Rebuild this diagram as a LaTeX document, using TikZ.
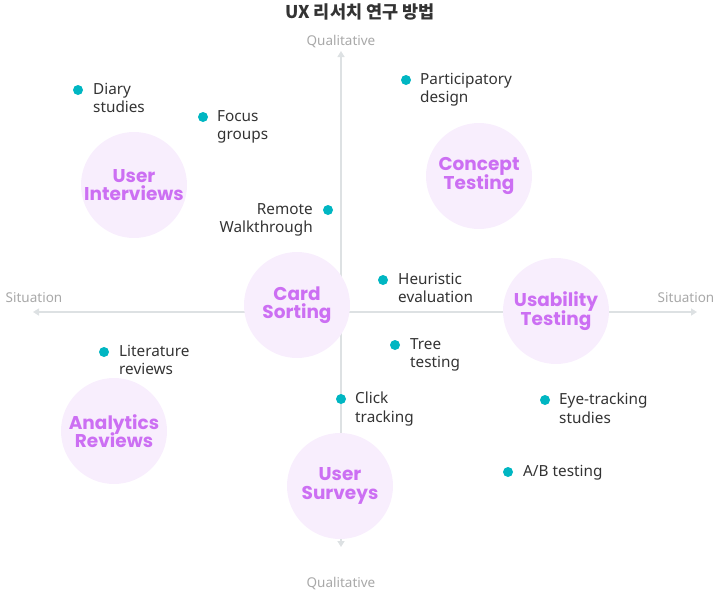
\documentclass[tikz,border=0pt]{standalone}
\usepackage{fontspec}
\setmainfont{Noto Sans}
\newfontfamily\popfont{Poppins}
\newfontfamily\krfont{Noto Sans CJK KR}
\usetikzlibrary{arrows.meta}
\definecolor{axisgray}{HTML}{DDE1E3}
\definecolor{labgray}{HTML}{A8A8A8}
\definecolor{circfill}{HTML}{F8EEFD}
\definecolor{circtext}{HTML}{CC6FF3}
\definecolor{dotcol}{HTML}{00B6C2}
\definecolor{txt}{HTML}{333333}
\newcommand\tightlines{\lineskiplimit=-30pt\relax\lineskip=0pt\relax}
\tikzset{
  axisline/.style={draw=axisgray, line width=1.6pt, -{Triangle[length=6pt,width=7pt]}},
  axislab/.style={text=labgray, font=\fontsize{13.5}{15}\selectfont},
  method/.style={circle, fill=circfill, minimum size=106pt, inner sep=0pt, align=center,
     text=circtext, font=\popfont\bfseries\fontsize{18.5}{18.5}\selectfont\tightlines},
  dotnode/.style={circle, fill=dotcol, minimum size=10pt, inner sep=0pt},
  item/.style={text=txt, align=left, anchor=north west, inner sep=0pt,
     font=\fontsize{15.3}{18.5}\selectfont},
  itemr/.style={text=txt, align=right, anchor=north east, inner sep=0pt,
     font=\fontsize{15.3}{18.5}\selectfont},
}
\begin{document}
\begin{tikzpicture}[x=1pt,y=-1pt]
\useasboundingbox (0,0) rectangle (720,595);
\node[font=\krfont\bfseries\fontsize{17.5}{20}\selectfont, text=txt] (title) at (360,12) {UX 리서치 연구 방법};
% axes
\coordinate (top) at (341,51);
\coordinate (bot) at (341,547);
\coordinate (lft) at (33,312);
\coordinate (rgt) at (697,312);
\coordinate (c) at (341,312);
\draw[axisline] (c) -- (top);
\draw[axisline] (c) -- (bot);
\draw[axisline] (c) -- (lft);
\draw[axisline] (c) -- (rgt);
\node[axislab] (qt) at (341,42) {Qualitative};
\node[axislab] (qb) at (341,584) {Qualitative};
\node[axislab] (sl) at (34,298) {Situation};
\node[axislab] (sr) at (686,298) {Situation};
% circles
\node[method] (ui) at (134,185) {User\\Interviews};
\node[method] (ct) at (479,176) {Concept\\Testing};
\node[method] (cs) at (297,305) {Card\\Sorting};
\node[method] (ut) at (556,311) {Usability\\Testing};
\node[method] (ar) at (114,431) {Analytics\\Reviews};
\node[method] (us) at (340,486) {User\\Surveys};
% dots and items
\node[dotnode] (d1) at (78,90) {};
\node[item] (t1) at (93,83) {Diary\\studies};
\node[dotnode] (d2) at (203,117) {};
\node[item] (t2) at (217,110) {Focus\\groups};
\node[dotnode] (d3) at (406,80) {};
\node[item] (t3) at (420,73) {Participatory\\design};
\node[dotnode] (d4) at (328,210) {};
\node[itemr] (t4) at (313,203) {Remote\\Walkthrough};
\node[dotnode] (d5) at (383,280) {};
\node[item] (t5) at (398,273) {Heuristic\\evaluation};
\node[dotnode] (d6) at (395,345) {};
\node[item] (t6) at (410,338) {Tree\\testing};
\node[dotnode] (d7) at (104,352) {};
\node[item] (t7) at (119,345) {Literature\\reviews};
\node[dotnode] (d8) at (341,399) {};
\node[item] (t8) at (355,392) {Click\\tracking};
\node[dotnode] (d9) at (545,400) {};
\node[item] (t9) at (559,393) {Eye-tracking\\studies};
\node[dotnode] (d10) at (508,472) {};
\node[item] (t10) at (523,465) {A/B testing};
\end{tikzpicture}
\end{document}
